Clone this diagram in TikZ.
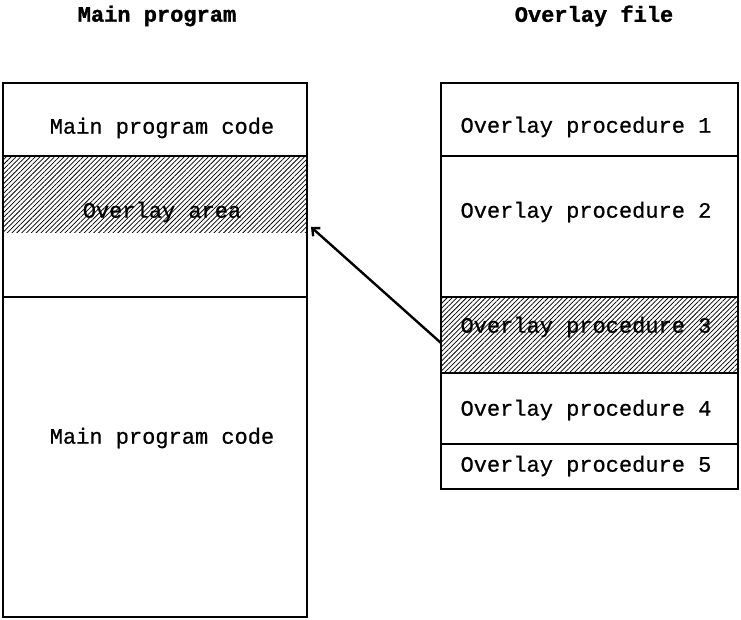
\documentclass[tikz,border=0pt]{standalone}
\usepackage{fontspec}
\setmonofont{Liberation Mono}
\newfontfamily\twfont[FakeBold=0.6]{Liberation Mono}
\newfontfamily\twbold[FakeBold=1.2]{Liberation Mono Bold}
\usetikzlibrary{arrows.meta,patterns.meta}
\begin{document}
\begin{tikzpicture}[x=1pt,y=-1pt,
  sect/.style={draw,line width=1.8pt,anchor=north west,inner sep=0pt,outer sep=0pt},
  hatch/.style={pattern={Lines[angle=45,distance=3.4pt,line width=0.75pt]}},
  lbl/.style={font=\twfont\fontsize{22}{24}\selectfont,inner sep=0pt},
  ttl/.style={font=\twbold\fontsize{22}{24}\selectfont,inner sep=0pt},
]
\useasboundingbox (0,0) rectangle (741,620);
% titles
\node[ttl] (t1) at (157,16) {Main program};
\node[ttl] (t2) at (594,16) {Overlay file};
% left column
\node[sect,minimum width=304pt,minimum height=73pt] (m1) at (3,83) {};
\node[sect,minimum width=304pt,minimum height=141pt] (m2) at (3,156) {};
\fill[hatch] (4,157) rectangle (306,233);
\node[sect,minimum width=304pt,minimum height=320pt] (m3) at (3,297) {};
\draw[line width=1.8pt] (m2.north west) rectangle (m2.south east);
\node[lbl] (l1) at (162,128) {Main program code};
\node[lbl] (l2) at (162,212) {Overlay area};
\node[lbl] (l3) at (162,438) {Main program code};
% right column
\node[sect,minimum width=297pt,minimum height=73pt] (o1) at (441,83) {};
\node[sect,minimum width=297pt,minimum height=141pt] (o2) at (441,156) {};
\node[sect,minimum width=297pt,minimum height=76pt,hatch] (o3) at (441,297) {};
\node[sect,minimum width=297pt,minimum height=71pt] (o4) at (441,373) {};
\node[sect,minimum width=297pt,minimum height=45pt] (o5) at (441,444) {};
\node[lbl] (p1) at (586,127) {Overlay procedure 1};
\node[lbl] (p2) at (586,212) {Overlay procedure 2};
\node[lbl] (p3) at (586,327) {Overlay procedure 3};
\node[lbl] (p4) at (586,410) {Overlay procedure 4};
\node[lbl] (p5) at (586,466) {Overlay procedure 5};
% arrow
\coordinate (tip) at (311,227);
\coordinate (src) at (441,343);
\draw[line width=2.4pt,-{Straight Barb[length=6pt,width=11pt]}] (src) -- (tip);
\end{tikzpicture}
\end{document}
